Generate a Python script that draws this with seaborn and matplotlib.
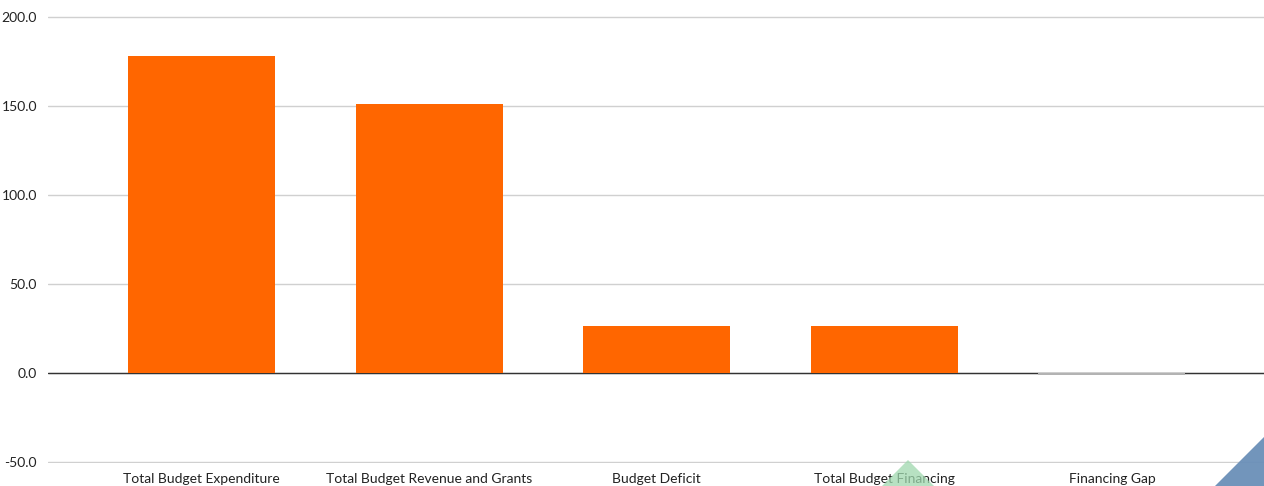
import matplotlib
matplotlib.use("Agg")
import matplotlib.pyplot as plt
import seaborn as sns
import pandas as pd
from matplotlib.patches import Polygon

categories = ["Total Budget Expenditure", "Total Budget Revenue and Grants",
              "Budget Deficit", "Total Budget Financing", "Financing Gap"]
values = [178.3, 151.0, 26.6, 26.6, -1.2]
yticks = [-50.0, 0.0, 50.0, 100.0, 150.0, 200.0]

sns.set_theme(style="white")
plt.rcParams['font.family'] = ['Lato', 'DejaVu Sans']

df = pd.DataFrame({"cat": categories, "val": values})
colors = ["#FF6600" if v >= 0 else "#B3B3B3" for v in values]

fig = plt.figure(figsize=(12.64, 4.86), dpi=100)
ax = fig.add_axes([48/1264, 1 - 463/486, (1264-48)/1264, (463-16)/486])

sns.barplot(data=df, x="cat", y="val", hue="cat", palette=colors, legend=False,
            width=0.646, ax=ax, zorder=3, saturation=1, linewidth=0, edgecolor="none")

ax.set_ylim(-50.5, 200.5)
ax.set_xlim(-0.674, 4.668)
ax.set_yticks(yticks)
ax.set_yticklabels([f"{t:.1f}" for t in yticks], fontsize=10, color="#222222")
ax.tick_params(axis='x', labelsize=10, colors="#222222", length=0, pad=7)
ax.tick_params(axis='y', length=0, pad=8)
ax.set_xlabel("")
ax.set_ylabel("")
ax.grid(axis='y', color="#D0D0D0", linewidth=1, zorder=0)
ax.axhline(0, color="#333333", linewidth=1, zorder=2)
for s in ax.spines.values():
    s.set_visible(False)

# decorative corner shapes
fig.patches.append(Polygon([[882/1264, 0], [934/1264, 0], [908/1264, 1 - 460/486]],
                           closed=True, transform=fig.transFigure,
                           facecolor="#9FD8AE", alpha=0.75, edgecolor="none", zorder=5))
fig.patches.append(Polygon([[1215/1264, 0], [1, 0], [1, 1 - 437/486]],
                           closed=True, transform=fig.transFigure,
                           facecolor="#6A8FB8", alpha=0.95, edgecolor="none", zorder=5))

fig.savefig("out.png", dpi=100)
